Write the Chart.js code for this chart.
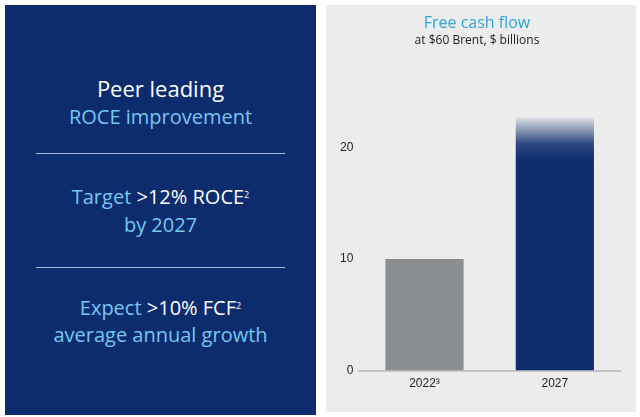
<!DOCTYPE html>
<html>
<head>
<meta charset="utf-8">
<script src="https://cdn.jsdelivr.net/npm/chart.js@4"></script>
<style>
  body{margin:0;width:640px;height:417px;background:#fff;position:relative;overflow:hidden;font-family:"Open Sans",sans-serif}
  .left{position:absolute;left:5px;top:5px;width:311px;height:410px;background:#0c2c6e;color:#fff}
  .ln{position:absolute;left:0;width:311px;text-align:center;font-size:20px;line-height:28px;white-space:nowrap}
  .lb{color:#74c8f0}
  .ln sup{font-size:9px;vertical-align:top;position:relative;top:-2px}
  .rule{position:absolute;left:31px;width:249px;height:1px;background:#a9b9d9}
  .right{position:absolute;left:326px;top:5px;width:310px;height:407px;background:#ececec}
</style>
</head>
<body>
<div class="left">
  <div class="ln" style="top:69px;font-size:22px">Peer leading</div>
  <div class="ln lb" style="top:98px">ROCE improvement</div>
  <div class="rule" style="top:148px"></div>
  <div class="ln" style="top:178px"><span class="lb">Target</span> &gt;12% ROCE<sup>2</sup></div>
  <div class="ln lb" style="top:206px">by 2027</div>
  <div class="rule" style="top:262px"></div>
  <div class="ln" style="top:289px"><span class="lb">Expect</span> &gt;10% FCF<sup>2</sup></div>
  <div class="ln lb" style="top:316px">average annual growth</div>
</div>
<div class="right"><canvas id="fcf"></canvas></div>
<script>
const years = ["2022³", "2027"]
const fcfValues = [10.0, 22.7]
const tickValues = [0, 10, 20]
const barColors = ["#8b8e91", "#0c2c6e"]

const ctx = document.getElementById("fcf")

// 2027 bar fades out at the top
const barFill = (c) => {
  const i = c.dataIndex
  if (i !== 1) return barColors[i]
  const chart = c.chart
  if (!chart.chartArea || !chart.scales.y) return barColors[i]
  const top = chart.scales.y.getPixelForValue(fcfValues[i])
  const g = chart.ctx.createLinearGradient(0, top, 0, top + 44)
  g.addColorStop(0, "rgba(12,44,110,0.05)")
  g.addColorStop(0.6, "rgba(12,44,110,0.85)")
  g.addColorStop(1, "rgba(12,44,110,1)")
  return g
}

new Chart(ctx, {
  type: "bar",
  data: {
    labels: years,
    datasets: [{
      data: fcfValues,
      backgroundColor: barFill,
      borderWidth: 0,
      barPercentage: 0.6,
      categoryPercentage: 1
    }]
  },
  options: {
    responsive: true,
    maintainAspectRatio: false,
    animation: false,
    layout: { padding: { left: 8, right: 16, top: 9, bottom: 15 } },
    plugins: {
      legend: { display: false },
      tooltip: { enabled: false },
      title: {
        display: true,
        text: "Free cash flow",
        color: "#2aa6de",
        font: { family: "Open Sans", size: 16, weight: "normal" },
        padding: { top: 0, bottom: 0 }
      },
      subtitle: {
        display: true,
        text: "at $60 Brent, $ billions",
        color: "#222",
        font: { family: "Open Sans", size: 12 },
        padding: { top: 0, bottom: 44 }
      }
    },
    scales: {
      x: {
        grid: { display: false, drawTicks: false },
        border: { display: true, color: "#c4c4c4", width: 2 },
        ticks: { color: "#222", font: { family: "Liberation Sans", size: 12 }, padding: 6 }
      },
      y: {
        min: 0,
        max: 25,
        afterBuildTicks: (axis) => { axis.ticks = tickValues.map(v => ({ value: v })) },
        grid: { display: false, drawTicks: false },
        border: { display: false },
        ticks: { color: "#222", font: { family: "Liberation Sans", size: 12 }, padding: 6 }
      }
    }
  }
})
</script>
</body>
</html>
